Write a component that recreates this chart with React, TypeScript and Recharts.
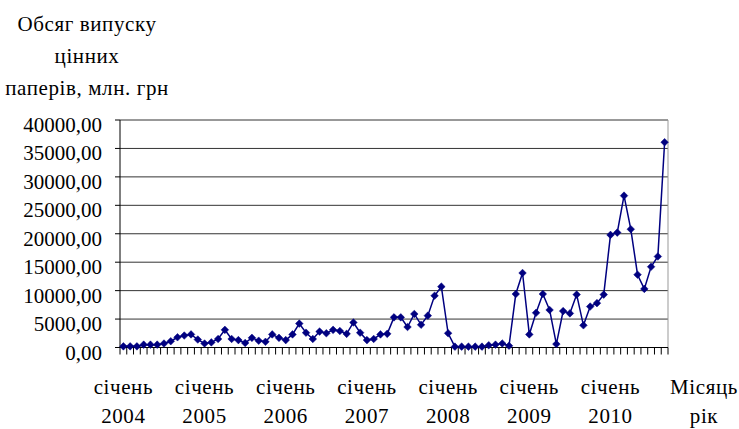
import { CartesianGrid, Line, LineChart, ReferenceLine, XAxis, YAxis } from "recharts";

const monthNames = [
  "січень", "лютий", "березень", "квітень", "травень", "червень",
  "липень", "серпень", "вересень", "жовтень", "листопад", "грудень",
];
const years = [2004, 2005, 2006, 2007, 2008, 2009, 2010];

// volumes per month, mln UAH
const v2004 = [200, 200, 200, 500, 500, 500, 700, 1100, 1800, 2100, 2300, 1400];
const v2005 = [700, 900, 1500, 3100, 1500, 1300, 800, 1700, 1200, 1000, 2300, 1700];
const v2006 = [1300, 2300, 4200, 2600, 1500, 2800, 2500, 3100, 2900, 2400, 4400, 2600];
const v2007 = [1300, 1500, 2300, 2400, 5300, 5300, 3600, 5900, 4000, 5600, 9100, 10700];
const v2008 = [2500, 150, 150, 150, 150, 150, 400, 500, 700, 300, 9400, 13100];
const v2009 = [2300, 6100, 9400, 6600, 600, 6400, 6000, 9300, 3900, 7200, 7800, 9300];
const v2010 = [19800, 20200, 26700, 20800, 12800, 10300, 14200, 16000, 36100];

const yTicks = [0, 5000, 10000, 15000, 20000, 25000, 30000, 35000, 40000];
const titleLines = ["Обсяг випуску", "цінних", "паперів, млн. грн"];
const axisTitleLines = ["Місяць", "рік"];

const values = [...v2004, ...v2005, ...v2006, ...v2007, ...v2008, ...v2009, ...v2010];
const data = values.map((value, i) => ({
  idx: i,
  month: monthNames[i % 12],
  year: years[Math.floor(i / 12)],
  value,
}));
// tick marks sit between categories, labels on each January
const boundaryTicks = [...data.map((d) => d.idx - 0.5), data.length - 0.5];
const januaryTicks = data.filter((d) => d.idx % 12 === 0).map((d) => d.idx);

const textStyle = { fontFamily: "Liberation Serif", fontSize: 21, fill: "#000", letterSpacing: 0.6 };
const NAVY = "#000080";

function fmt(v: number): string {
  return v.toFixed(2).replace(".", ",");
}

function YTick({ x, y, payload }: { x?: number; y?: number; payload?: { value: number } }) {
  return (
    <text x={x} y={(y ?? 0) + 12} textAnchor="end" style={{ ...textStyle, letterSpacing: 0 }}>
      {fmt(payload?.value ?? 0)}
    </text>
  );
}

function MonthTick({ x, payload }: { x?: number; payload?: { value: number } }) {
  const d = data[payload?.value ?? 0];
  if (!d) return null;
  return (
    <g>
      <text x={x} y={394} textAnchor="middle" style={textStyle}>
        {d.month}
      </text>
      <text x={x} y={423} textAnchor="middle" style={textStyle}>
        {d.year}
      </text>
    </g>
  );
}

function Diamond({ cx, cy }: { cx?: number; cy?: number }) {
  if (cx == null || cy == null) return null;
  const r = 3.8;
  return (
    <path
      d={`M${cx},${cy - r}L${cx + r},${cy}L${cx},${cy + r}L${cx - r},${cy}Z`}
      fill={NAVY}
      stroke={NAVY}
      strokeWidth={0.5}
    />
  );
}

export default function App() {
  return (
    <div style={{ position: "fixed", left: 0, top: 0, width: 739, height: 429, background: "#fff" }}>
      <LineChart
        width={739}
        height={429}
        data={data}
        margin={{ top: 120, right: 71, bottom: 0, left: 0 }}
      >
        <CartesianGrid xAxisId="grid" vertical={false} stroke="#333" />
        <XAxis
          xAxisId="grid"
          type="number"
          dataKey="idx"
          domain={[-0.5, data.length - 0.5]}
          ticks={boundaryTicks}
          interval={0}
          tickSize={7}
          tickFormatter={() => ""}
          axisLine={{ stroke: "#000" }}
          tickLine={{ stroke: "#000" }}
          height={10}
        />
        <XAxis
          xAxisId="labels"
          type="number"
          dataKey="idx"
          domain={[-0.5, data.length - 0.5]}
          ticks={januaryTicks}
          interval={0}
          axisLine={false}
          tickLine={false}
          tick={<MonthTick />}
          height={71.5}
        />
        <YAxis
          type="number"
          domain={[0, 40000]}
          ticks={yTicks}
          interval={0}
          width={120}
          tickSize={5}
          tickMargin={13}
          axisLine={{ stroke: "#000" }}
          tickLine={{ stroke: "#000" }}
          tick={<YTick />}
        />
        <ReferenceLine xAxisId="grid" x={data.length - 0.5} stroke="#999" />
        <Line
          xAxisId="grid"
          type="linear"
          dataKey="value"
          stroke={NAVY}
          strokeWidth={1.5}
          dot={(p: { cx?: number; cy?: number; index?: number }) => (
            <Diamond key={`d-${p.index}`} cx={p.cx} cy={p.cy} />
          )}
          activeDot={false}
          isAnimationActive={false}
        />
      </LineChart>
      <svg
        width={739}
        height={429}
        style={{ position: "absolute", left: 0, top: 0, pointerEvents: "none" }}
      >
        {titleLines.map((t, i) => (
          <text key={t} x={87} y={31 + i * 32} textAnchor="middle" style={textStyle}>
            {t}
          </text>
        ))}
        {axisTitleLines.map((t, i) => (
          <text key={t} x={704} y={394 + i * 29} textAnchor="middle" style={textStyle}>
            {t}
          </text>
        ))}
      </svg>
    </div>
  );
}
